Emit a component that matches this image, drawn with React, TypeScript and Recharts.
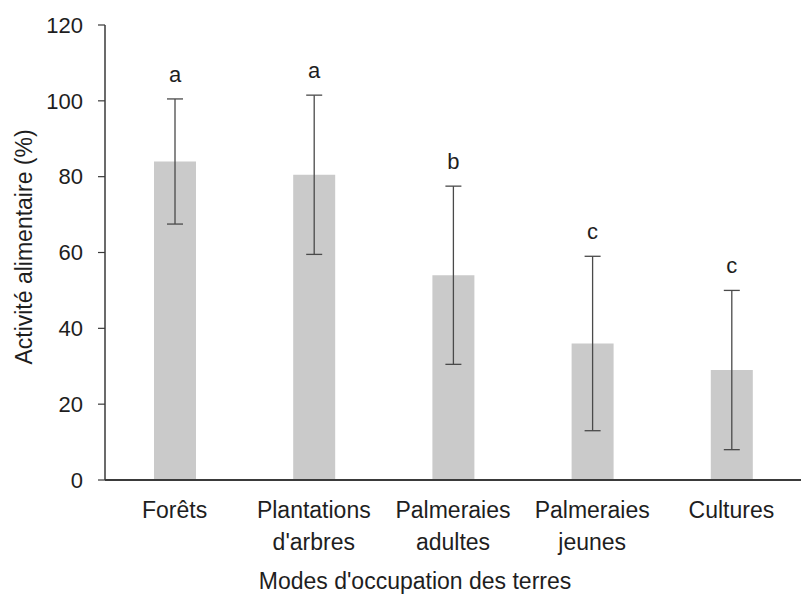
import React from "react";
import { BarChart, Bar, XAxis, YAxis, ErrorBar, LabelList } from "recharts";

// Land-use categories, mean feeding activity (%), standard deviation and significance letters
const categories = ["Forêts", "Plantations d'arbres", "Palmeraies adultes", "Palmeraies jeunes", "Cultures"];
const means = [84, 80.5, 54, 36, 29];
const deviations = [16.5, 21, 23.5, 23, 21];
const letters = ["a", "a", "b", "c", "c"];
const yTicks = [0, 20, 40, 60, 80, 100, 120];

const data = categories.map((name, i) => ({
  name,
  mean: means[i],
  sd: deviations[i],
  sig: letters[i],
}));

const FONT = "'Liberation Sans', Arial, Helvetica, sans-serif";
const TEXT = "#1e1e1e";

const CategoryTick = (props: any) => {
  const { x, y, payload } = props;
  const lines: string[] = String(payload.value).split(" ");
  return (
    <g>
      {lines.map((line, i) => (
        <text
          key={i}
          x={x}
          y={y + 38 + i * 32}
          textAnchor="middle"
          fontFamily={FONT}
          fontSize={23}
          fill={TEXT}
        >
          {line}
        </text>
      ))}
    </g>
  );
};

// Significance letter placed just above the top of each error bar
const SigLabel = (props: any) => {
  const { x, y, width, height, index } = props;
  const m = means[index];
  const unit = height / m;
  const top = y - deviations[index] * unit;
  return (
    <text
      x={x + width / 2}
      y={top - 17}
      textAnchor="middle"
      fontFamily={FONT}
      fontSize={22}
      fill={TEXT}
    >
      {letters[index]}
    </text>
  );
};

export default function App() {
  return (
    <div style={{ position: "absolute", left: 0, top: 0, width: 801, height: 595, background: "#fff" }}>
      <BarChart
        width={801}
        height={595}
        data={data}
        margin={{ top: 25, right: 0, bottom: 0, left: 0 }}
        barCategoryGap={0}
      >
        <XAxis
          dataKey="name"
          height={115}
          tickLine={false}
          tickSize={0}
          tickMargin={0}
          axisLine={{ stroke: "#3a3a3a", strokeWidth: 2 }}
          tick={<CategoryTick />}
          interval={0}
          label={(p: any) => (
            <text x={415} y={589} textAnchor="middle" fontFamily={FONT} fontSize={23} fill={TEXT}>
              Modes d'occupation des terres
            </text>
          )}
        />
        <YAxis
          width={105}
          domain={[0, 120]}
          ticks={yTicks}
          interval={0}
          tickSize={7}
          tickMargin={15}
          axisLine={{ stroke: "#3a3a3a", strokeWidth: 1.5 }}
          tickLine={{ stroke: "#3a3a3a", strokeWidth: 1.2 }}
          tick={{ fontFamily: FONT, fontSize: 22, fill: TEXT }}
          label={(p: any) => (
            <text
              x={32}
              y={247}
              transform="rotate(-90 32 247)"
              textAnchor="middle"
              fontFamily={FONT}
              fontSize={23}
              fill={TEXT}
            >
              Activité alimentaire (%)
            </text>
          )}
        />
        <Bar dataKey="mean" fill="#cacaca" barSize={42} isAnimationActive={false}>
          <ErrorBar dataKey="sd" width={8} stroke="#4a4a4a" strokeWidth={1.3} isAnimationActive={false} />
          <LabelList dataKey="sig" content={<SigLabel />} />
        </Bar>
      </BarChart>
    </div>
  );
}
